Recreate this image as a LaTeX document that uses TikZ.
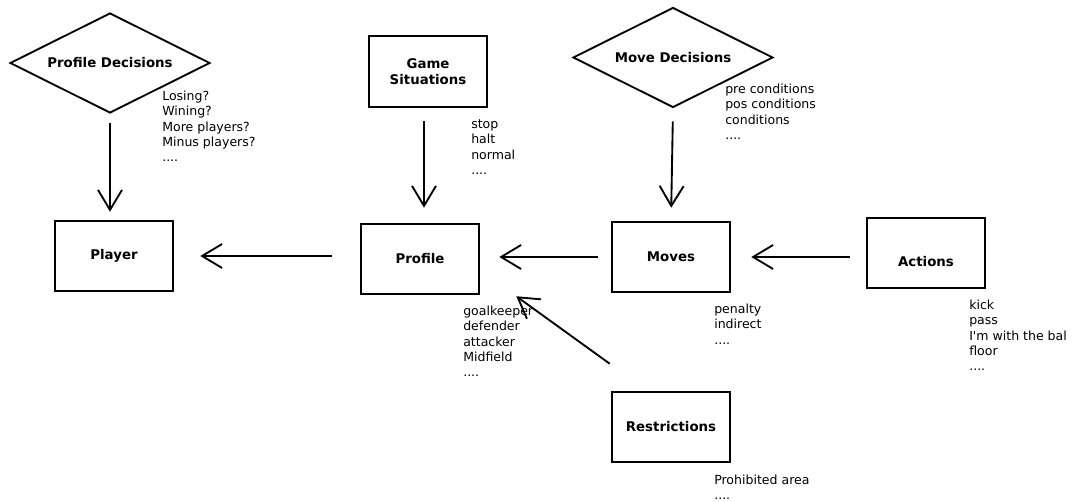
\documentclass[tikz,border=0pt]{standalone}
\usepackage{fontspec}
\setmainfont{DejaVu Sans}
\usetikzlibrary{shapes.geometric,arrows.meta,calc}
\begin{document}
\begin{tikzpicture}[x=0.75pt,y=-0.75pt,
  box/.style={draw,line width=1.4pt,minimum width=89pt,minimum height=53pt,inner sep=0pt,
    font=\fontsize{10}{12}\selectfont\bfseries,align=center},
  dec/.style={draw,diamond,shape aspect=2,line width=1.4pt,minimum width=150pt,minimum height=75pt,
    inner sep=0pt,font=\fontsize{10}{12}\selectfont\bfseries},
  lbl/.style={anchor=base west,inner sep=0pt,align=left,font=\fontsize{9.4}{11.5}\selectfont},
  arr/.style={line width=1.4pt,-{Straight Barb[length=15pt,width=18pt,line width=1.4pt]}}]
\useasboundingbox (0,0) rectangle (1073,502);

\node[dec] (pd) at (110,63) {Profile Decisions};
\node[box] (gs) at (428,71.5) {Game\\Situations};
\node[dec] (md) at (673,57.5) {Move Decisions};
\node[box] (pl) at (114,256) {Player};
\node[box] (pr) at (420,259) {Profile};
\node[box] (mv) at (671,257) {Moves};
\node[box] (ac) at (926,253) {\raisebox{-10pt}[0pt][0pt]{Actions}};
\node[box] (re) at (671,427) {Restrictions};

\node[lbl] (pdl) at (162,161.7) {Losing?\\Wining?\\More players?\\Minus players?\\....};
\node[lbl] (gsl) at (471,174.4) {stop\\halt\\normal\\....};
\node[lbl] (mdl) at (725,139.4) {pre conditions\\pos conditions\\conditions\\....};
\node[lbl] (prl) at (463,376.7) {goalkeeper\\defender\\attacker\\Midfield\\....};
\node[lbl] (mvl) at (714,344.1) {penalty\\indirect\\....};
\node[lbl] (acl) at (969,370.7) {kick\\pass\\I\textquotesingle m with the bal\\floor\\....};
\node[lbl] (rel) at (714,499.8) {Prohibited area\\....};

\coordinate (rs) at ($(re.north west)+(-1,-27)$);
\coordinate (re2) at ($(pr.south east)+(36,1)$);

\draw[arr,shorten <=6.75pt,shorten >=6pt] (pd.south) -- (pd.south |- pl.north);
\draw[arr,shorten <=9.75pt,shorten >=11.25pt] ([xshift=-3pt]gs.south) -- ([xshift=-3pt]gs.south |- pr.north);
\draw[arr,shorten <=9.75pt,shorten >=9.75pt] (md.south) -- (mv.north);
\draw[arr,shorten <=21pt,shorten >=19.5pt] (pl.east -| pr.west) -- (pl.east);
\draw[arr,shorten <=9.75pt,shorten >=14.25pt] (mv.west) -- (mv.west -| pr.east);
\draw[arr,shorten <=12pt,shorten >=15pt] (ac.west |- mv.east) -- (mv.east);
\draw[arr] (rs) -- (re2);
\end{tikzpicture}
\end{document}
